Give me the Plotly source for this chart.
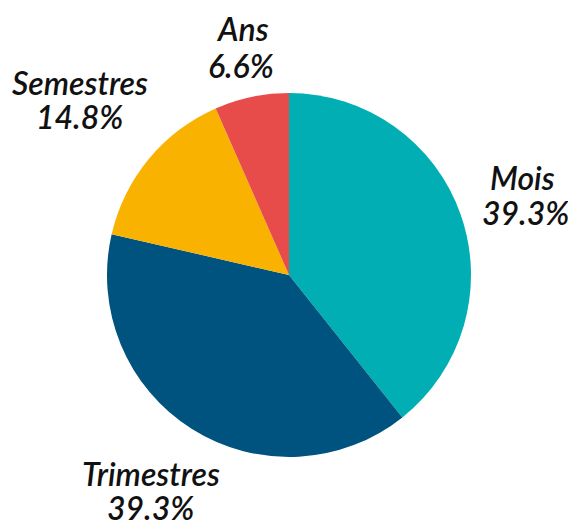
import plotly.graph_objects as go

W, H = 568, 525

labels = ["Mois", "Trimestres", "Semestres", "Ans"]
values = [39.3, 39.3, 14.8, 6.6]
colors = ["#00AEB3", "#00537E", "#F9B200", "#E84C4A"]

# label placement in pixels (name line centre, percent line centre), same order as labels
name_pos = [(522, 177), (151, 474), (80, 83), (242, 29)]
pct_pos = [(525, 212), (150, 507), (79, 116), (241, 66)]


def px_to_paper(x, y):
    return x / W, 1 - y / H


# pie centre ~ (289, 275) px, radius ~182 px
cx, cy, r = 289, 275, 182
fig = go.Figure(go.Pie(
    labels=labels,
    values=values,
    sort=False,
    direction="clockwise",
    rotation=0,
    marker=dict(colors=colors, line=dict(width=0)),
    textinfo="none",
    hoverinfo="label+percent",
    domain=dict(x=[(cx - r) / W, (cx + r) / W],
                y=[1 - (cy + r) / H, 1 - (cy - r) / H]),
    showlegend=False,
))

font = dict(family="Lato", size=32, color="#111111", style="italic", weight=600)
total = sum(values)
for lab, val, npos, ppos in zip(labels, values, name_pos, pct_pos):
    for txt, pos in ((lab, npos), (f"{val / total * 100:.1f}%", ppos)):
        x, y = px_to_paper(*pos)
        fig.add_annotation(
            x=x, y=y, xref="paper", yref="paper",
            text=txt, showarrow=False,
            xanchor="center", yanchor="middle",
            font=font,
        )

fig.update_layout(
    width=W, height=H,
    margin=dict(l=0, r=0, t=0, b=0),
    paper_bgcolor="white",
    plot_bgcolor="white",
)

fig.write_html("out.html", config={"displayModeBar": False},
               post_script="document.body.style.margin = '0';")
